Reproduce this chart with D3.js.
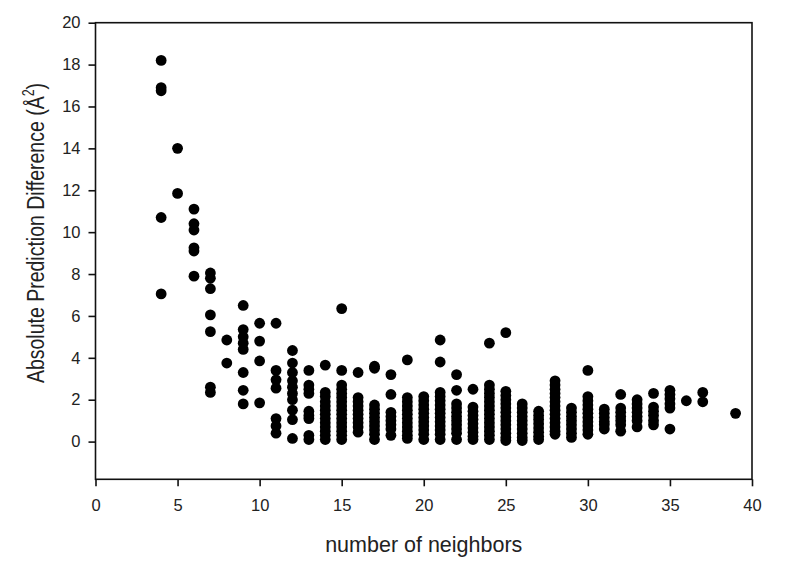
<!DOCTYPE html>
<html>
<head>
<meta charset="utf-8">
<script src="https://cdnjs.cloudflare.com/ajax/libs/d3/7.8.5/d3.min.js"></script>
<style>
  html, body { margin: 0; padding: 0; background: #fff; }
  svg { display: block; font-family: "Liberation Sans", Arial, sans-serif; }
</style>
</head>
<body>
<svg id="chart" width="800" height="565"></svg>
<script>
// Number of neighbors (x categories) and the absolute prediction differences read for each
const neighbors = [4, 5, 6, 7, 8, 9, 10, 11, 12, 13, 14, 15, 16, 17, 18, 19, 20, 21, 22, 23, 24, 25, 26, 27, 28, 29, 30, 31, 32, 33, 34, 35, 36, 37, 39];
const differences = [
  [18.2, 16.9, 16.75, 10.7, 7.05],
  [14.0, 11.85],
  [11.1, 10.4, 10.1, 9.25, 9.1, 7.9],
  [8.05, 7.8, 7.3, 6.05, 5.25, 2.6, 2.35],
  [4.85, 3.75],
  [6.5, 5.35, 5.0, 4.7, 4.4, 3.3, 2.45, 1.8],
  [5.65, 4.8, 3.85, 1.85],
  [5.65, 3.4, 2.95, 2.55, 1.1, 0.75, 0.4],
  [4.35, 3.75, 3.3, 2.9, 2.6, 2.3, 2.0, 1.5, 1.05, 0.15],
  [3.4, 2.7, 2.5, 2.3, 1.45, 1.25, 1.1, 0.3, 0.1],
  [3.65, 2.35, 2.15, 1.9, 1.7, 1.5, 1.3, 1.1, 0.9, 0.7, 0.5, 0.3, 0.1],
  [6.35, 3.4, 2.7, 2.5, 2.3, 2.1, 1.9, 1.7, 1.5, 1.3, 1.1, 0.9, 0.7, 0.5, 0.3, 0.1],
  [3.3, 2.1, 1.9, 1.7, 1.5, 1.3, 1.1, 0.9, 0.7, 0.45],
  [3.6, 3.5, 1.75, 1.55, 1.35, 1.15, 0.95, 0.75, 0.55, 0.35, 0.1],
  [3.2, 2.25, 1.4, 1.2, 1.0, 0.8, 0.6, 0.3],
  [3.9, 2.1, 1.9, 1.7, 1.5, 1.3, 1.1, 0.9, 0.7, 0.5, 0.3, 0.15],
  [2.15, 1.95, 1.75, 1.55, 1.35, 1.15, 0.95, 0.75, 0.55, 0.35, 0.1],
  [4.85, 3.8, 2.35, 2.15, 1.95, 1.75, 1.55, 1.35, 1.15, 0.95, 0.75, 0.55, 0.35, 0.1],
  [3.2, 2.45, 1.8, 1.6, 1.4, 1.2, 1.0, 0.8, 0.6, 0.4, 0.1],
  [2.5, 1.65, 1.45, 1.25, 1.05, 0.85, 0.65, 0.45, 0.25, 0.1],
  [4.7, 2.7, 2.5, 2.3, 2.1, 1.9, 1.7, 1.5, 1.3, 1.1, 0.9, 0.7, 0.5, 0.3, 0.1],
  [5.2, 2.4, 2.2, 2.0, 1.8, 1.6, 1.4, 1.2, 1.0, 0.8, 0.6, 0.4, 0.2, 0.05],
  [1.8, 1.6, 1.4, 1.2, 1.0, 0.8, 0.6, 0.4, 0.2, 0.05],
  [1.45, 1.25, 1.05, 0.85, 0.65, 0.45, 0.25, 0.1],
  [2.9, 2.7, 2.5, 2.3, 2.1, 1.9, 1.7, 1.5, 1.3, 1.1, 0.9, 0.7, 0.5, 0.35],
  [1.6, 1.4, 1.2, 1.0, 0.8, 0.6, 0.4, 0.2],
  [3.4, 2.15, 1.95, 1.75, 1.55, 1.35, 1.15, 0.95, 0.75, 0.55, 0.35],
  [1.55, 1.35, 1.15, 0.95, 0.8, 0.6],
  [2.25, 1.6, 1.4, 1.2, 1.0, 0.8, 0.5],
  [2.0, 1.8, 1.6, 1.4, 1.2, 1.0, 0.7],
  [2.3, 1.65, 1.45, 1.25, 1.0, 0.8],
  [2.45, 2.25, 2.05, 1.8, 1.6, 0.6],
  [1.95],
  [2.35, 1.9],
  [1.35]
];
const xTicks = [0, 5, 10, 15, 20, 25, 30, 35, 40];
const yTicks = [0, 2, 4, 6, 8, 10, 12, 14, 16, 18, 20];
const xTitle = "number of neighbors";
const yTitle = "Absolute Prediction Difference (Å";

const points = [];
neighbors.forEach((n, i) => differences[i].forEach(v => points.push({ x: n, y: v })));

const svg = d3.select("#chart");
const mLeft = 95.5, mRight = 752, mTop = 22.7, mBottom = 479.3;

const x = d3.scaleLinear().domain([0, 40]).range([mLeft, mRight]);
const y = d3.scaleLinear().domain([-1.8, 20]).range([mBottom, mTop]);

// points
svg.append("g").selectAll("circle").data(points).join("circle")
  .attr("cx", d => x(d.x))
  .attr("cy", d => y(d.y))
  .attr("r", 5.4)
  .attr("fill", "#000");

// frame
svg.append("rect")
  .attr("x", mLeft).attr("y", mTop)
  .attr("width", mRight - mLeft).attr("height", mBottom - mTop)
  .attr("fill", "none").attr("stroke", "#111").attr("stroke-width", 1.6);

// axes
const xAxis = svg.append("g")
  .attr("transform", `translate(0,${mBottom})`)
  .call(d3.axisBottom(x).tickValues(xTicks).tickSize(7).tickPadding(13).tickFormat(d3.format("d")));
const yAxis = svg.append("g")
  .attr("transform", `translate(${mLeft},0)`)
  .call(d3.axisLeft(y).tickValues(yTicks).tickSize(7).tickPadding(8).tickFormat(d3.format("d")));

[xAxis, yAxis].forEach(g => {
  g.select(".domain").remove();
  g.selectAll(".tick line").attr("stroke", "#111").attr("stroke-width", 1.6);
  g.selectAll(".tick text")
    .attr("fill", "#222")
    .style("font-size", "16.5px")
    .style("font-family", "'Liberation Sans', Arial, sans-serif");
});

// x title
svg.append("text")
  .attr("x", (mLeft + mRight) / 2)
  .attr("y", 551.5)
  .attr("text-anchor", "middle")
  .attr("fill", "#222")
  .style("font-size", "21.5px")
  .text(xTitle);

// y title with superscript
const yt = svg.append("text")
  .attr("transform", `translate(43.5,233) rotate(-90) scale(1,1.25)`)
  .attr("text-anchor", "middle")
  .attr("fill", "#222")
  .style("font-size", "19.5px");
yt.append("tspan").text(yTitle);
yt.append("tspan").attr("dy", -8).style("font-size", "12.5px").text("2");
yt.append("tspan").attr("dy", 8).text(")");
</script>
</body>
</html>
